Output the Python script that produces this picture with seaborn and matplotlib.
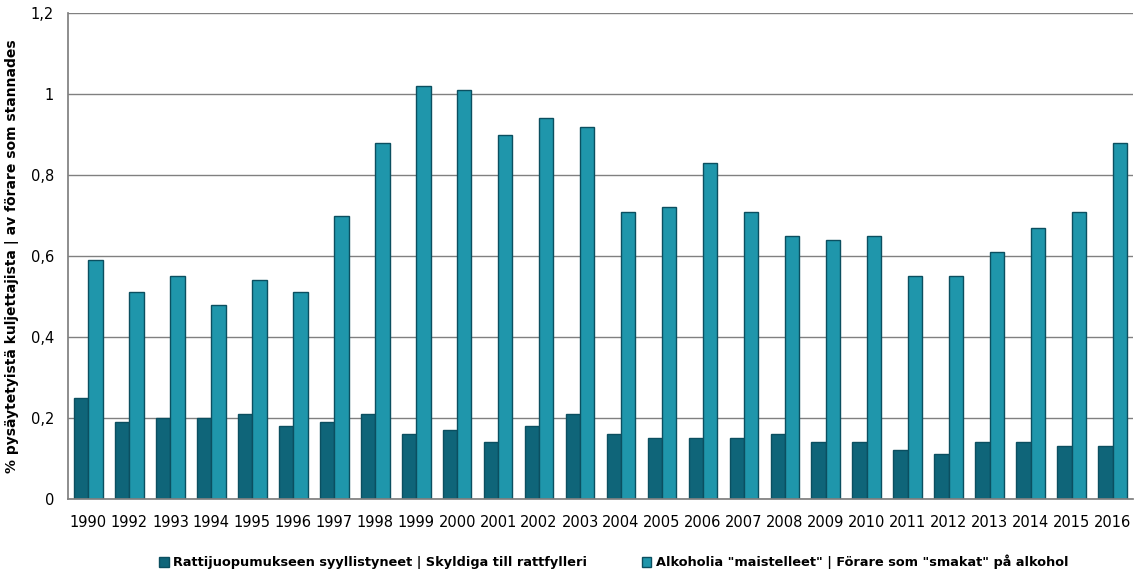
import matplotlib
matplotlib.use("Agg")
import matplotlib.pyplot as plt
import seaborn as sns
import pandas as pd
from matplotlib.ticker import FuncFormatter

years = ["1990", "1992", "1993", "1994", "1995", "1996", "1997", "1998", "1999", "2000",
         "2001", "2002", "2003", "2004", "2005", "2006", "2007", "2008", "2009", "2010",
         "2011", "2012", "2013", "2014", "2015", "2016"]
guilty = [0.25, 0.19, 0.20, 0.20, 0.21, 0.18, 0.19, 0.21, 0.16, 0.17,
          0.14, 0.18, 0.21, 0.16, 0.15, 0.15, 0.15, 0.16, 0.14, 0.14,
          0.12, 0.11, 0.14, 0.14, 0.13, 0.13]
tasted = [0.59, 0.51, 0.55, 0.48, 0.54, 0.51, 0.70, 0.88, 1.02, 1.01,
          0.90, 0.94, 0.92, 0.71, 0.72, 0.83, 0.71, 0.65, 0.64, 0.65,
          0.55, 0.55, 0.61, 0.67, 0.71, 0.88]
s1 = "Rattijuopumukseen syyllistyneet | Skyldiga till rattfylleri"
s2 = 'Alkoholia "maistelleet" | Förare som "smakat" på alkohol'

df = pd.DataFrame({
    "year": years * 2,
    "value": guilty + tasted,
    "series": [s1] * len(years) + [s2] * len(years),
})

sns.set_theme(style="white")
plt.rcParams['font.family'] = ['DejaVu Sans']
plt.rcParams['text.color'] = 'black'
plt.rcParams['axes.labelcolor'] = 'black'

fig = plt.figure(figsize=(11.41, 5.76), dpi=100)
ax = fig.add_axes([0.0596, 0.134, 0.9334, 0.843])

palette = {s1: "#0f6579", s2: "#1f96ab"}
sns.barplot(data=df, x="year", y="value", hue="series", palette=palette,
            width=0.7, gap=0.0, ax=ax, saturation=1, linewidth=1,
            edgecolor="#0b4f60")

ax.set_ylim(0, 1.2)
ax.set_yticks([0, 0.2, 0.4, 0.6, 0.8, 1.0, 1.2])
ax.yaxis.set_major_formatter(FuncFormatter(
    lambda v, p: "0" if v == 0 else ("1" if abs(v - 1) < 1e-9 else f"{v:.1f}".replace(".", ","))))
ax.set_xlim(-0.5, len(years) - 0.5)
ax.yaxis.grid(True, color="#808080", linewidth=1)
ax.set_axisbelow(True)
for side in ["top", "right"]:
    ax.spines[side].set_visible(False)
ax.spines["left"].set_color("#808080")
ax.spines["bottom"].set_color("#808080")
ax.tick_params(axis="both", labelsize=10.5, colors="black", length=0, pad=10)
ax.tick_params(axis="x", pad=12)
ax.set_xlabel("")
ax.set_ylabel("% pysäytetyistä kuljettajista | av förare som stannades",
              fontsize=10, fontweight="bold", color="black")
ax.yaxis.set_label_coords(-0.046, 0.5)

ax.get_legend().remove()
handles, labels = ax.get_legend_handles_labels()
leg = fig.legend(handles, labels, loc="center", bbox_to_anchor=(0.538, 0.024), ncol=2,
                 frameon=False, fontsize=9.3, handlelength=0.75, handleheight=0.75,
                 handletextpad=0.35, columnspacing=4.2)
for t in leg.get_texts():
    t.set_fontweight("bold")
    t.set_color("black")

fig.savefig("out.png", dpi=100)
